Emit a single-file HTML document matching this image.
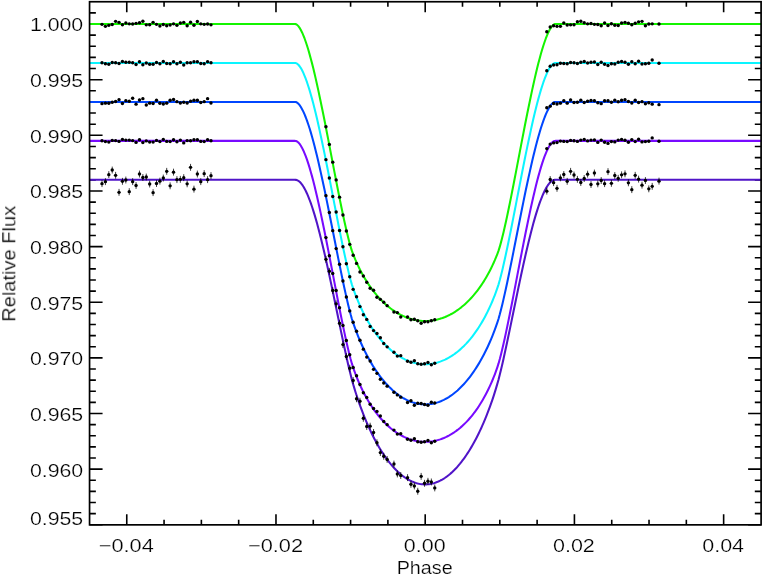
<!DOCTYPE html><html><head><meta charset="utf-8"><title>Transit light curves</title><style>html,body{margin:0;padding:0;background:#fff}svg{display:block}</style></head><body><svg width="763" height="576" viewBox="0 0 763 576"><rect width="763" height="576" fill="#fff"/><path d="M126.76,524.85v-10.5M126.76,1.74v10.5M164.06,524.85v-5.0M164.06,1.74v5.0M201.37,524.85v-5.0M201.37,1.74v5.0M238.67,524.85v-5.0M238.67,1.74v5.0M275.98,524.85v-10.5M275.98,1.74v10.5M313.28,524.85v-5.0M313.28,1.74v5.0M350.59,524.85v-5.0M350.59,1.74v5.0M387.89,524.85v-5.0M387.89,1.74v5.0M425.20,524.85v-10.5M425.20,1.74v10.5M462.50,524.85v-5.0M462.50,1.74v5.0M499.81,524.85v-5.0M499.81,1.74v5.0M537.12,524.85v-5.0M537.12,1.74v5.0M574.42,524.85v-10.5M574.42,1.74v10.5M611.73,524.85v-5.0M611.73,1.74v5.0M649.03,524.85v-5.0M649.03,1.74v5.0M686.34,524.85v-5.0M686.34,1.74v5.0M723.64,524.85v-10.5M723.64,1.74v10.5M89.56,524.80h13.0M761.1,524.80h-13.0M89.56,513.67h6.3M761.1,513.67h-6.3M89.56,502.54h6.3M761.1,502.54h-6.3M89.56,491.42h6.3M761.1,491.42h-6.3M89.56,480.29h6.3M761.1,480.29h-6.3M89.56,469.16h13.0M761.1,469.16h-13.0M89.56,458.03h6.3M761.1,458.03h-6.3M89.56,446.90h6.3M761.1,446.90h-6.3M89.56,435.78h6.3M761.1,435.78h-6.3M89.56,424.65h6.3M761.1,424.65h-6.3M89.56,413.52h13.0M761.1,413.52h-13.0M89.56,402.39h6.3M761.1,402.39h-6.3M89.56,391.26h6.3M761.1,391.26h-6.3M89.56,380.14h6.3M761.1,380.14h-6.3M89.56,369.01h6.3M761.1,369.01h-6.3M89.56,357.88h13.0M761.1,357.88h-13.0M89.56,346.75h6.3M761.1,346.75h-6.3M89.56,335.62h6.3M761.1,335.62h-6.3M89.56,324.50h6.3M761.1,324.50h-6.3M89.56,313.37h6.3M761.1,313.37h-6.3M89.56,302.24h13.0M761.1,302.24h-13.0M89.56,291.11h6.3M761.1,291.11h-6.3M89.56,279.98h6.3M761.1,279.98h-6.3M89.56,268.86h6.3M761.1,268.86h-6.3M89.56,257.73h6.3M761.1,257.73h-6.3M89.56,246.60h13.0M761.1,246.60h-13.0M89.56,235.47h6.3M761.1,235.47h-6.3M89.56,224.34h6.3M761.1,224.34h-6.3M89.56,213.22h6.3M761.1,213.22h-6.3M89.56,202.09h6.3M761.1,202.09h-6.3M89.56,190.96h13.0M761.1,190.96h-13.0M89.56,179.83h6.3M761.1,179.83h-6.3M89.56,168.70h6.3M761.1,168.70h-6.3M89.56,157.58h6.3M761.1,157.58h-6.3M89.56,146.45h6.3M761.1,146.45h-6.3M89.56,135.32h13.0M761.1,135.32h-13.0M89.56,124.19h6.3M761.1,124.19h-6.3M89.56,113.06h6.3M761.1,113.06h-6.3M89.56,101.94h6.3M761.1,101.94h-6.3M89.56,90.81h6.3M761.1,90.81h-6.3M89.56,79.68h13.0M761.1,79.68h-13.0M89.56,68.55h6.3M761.1,68.55h-6.3M89.56,57.42h6.3M761.1,57.42h-6.3M89.56,46.30h6.3M761.1,46.30h-6.3M89.56,35.17h6.3M761.1,35.17h-6.3M89.56,24.04h13.0M761.1,24.04h-13.0M89.56,12.91h6.3M761.1,12.91h-6.3" stroke="#000" stroke-width="1.6" fill="none"/><path d="M89.45,24.04L294.63,24.04L295.88,24.12L297.12,24.88L298.36,26.16L299.61,27.86L300.85,29.99L302.09,32.44L303.34,35.32L304.58,38.48L305.82,42.00L307.07,45.75L308.31,49.82L309.55,54.09L310.80,58.67L312.04,63.37L313.28,68.31L314.53,73.55L315.77,78.89L317.02,84.43L318.26,90.10L319.50,95.98L320.75,102.04L321.99,107.97L323.23,114.06L324.48,120.25L325.72,126.56L326.96,132.96L328.21,139.39L329.45,145.91L330.69,152.38L331.94,158.84L333.18,165.39L334.42,171.86L335.67,178.28L336.91,184.72L338.15,191.07L339.40,197.35L340.64,203.53L341.89,209.45L343.13,215.45L344.37,221.16L345.62,226.81L346.86,232.19L348.10,237.28L349.35,242.14L350.59,246.65L351.83,250.64L353.08,254.02L354.32,257.18L355.56,260.16L356.81,262.98L358.05,265.67L359.29,268.24L360.54,270.70L361.78,273.05L363.02,275.31L364.27,277.48L365.51,279.57L366.76,281.58L368.00,283.51L369.24,285.36L370.49,287.16L371.73,288.88L372.97,290.54L374.22,292.14L375.46,293.69L376.70,295.18L377.95,296.61L379.19,297.99L380.43,299.32L381.68,300.60L382.92,301.84L384.16,303.02L385.41,304.16L386.65,305.26L387.89,306.31L389.14,307.33L390.38,308.30L391.63,309.23L392.87,310.12L394.11,310.97L395.36,311.78L396.60,312.55L397.84,313.29L399.09,313.99L400.33,314.66L401.57,315.29L402.82,315.88L404.06,316.44L405.30,316.97L406.55,317.46L407.79,317.92L409.03,318.35L410.28,318.74L411.52,319.11L412.76,319.43L414.01,319.73L415.25,320.00L416.50,320.23L417.74,320.43L418.98,320.60L420.23,320.74L421.47,320.85L422.71,320.93L423.96,320.98L425.20,320.99L426.44,320.98L427.69,320.93L428.93,320.85L430.17,320.74L431.42,320.60L432.66,320.43L433.90,320.23L435.15,320.00L436.39,319.73L437.63,319.43L438.88,319.11L440.12,318.74L441.37,318.35L442.61,317.92L443.85,317.46L445.10,316.97L446.34,316.44L447.58,315.88L448.83,315.29L450.07,314.66L451.31,313.99L452.56,313.29L453.80,312.55L455.04,311.78L456.29,310.97L457.53,310.12L458.77,309.23L460.02,308.30L461.26,307.33L462.50,306.31L463.75,305.26L464.99,304.16L466.24,303.02L467.48,301.84L468.72,300.60L469.97,299.32L471.21,297.99L472.45,296.61L473.70,295.18L474.94,293.69L476.18,292.14L477.43,290.54L478.67,288.88L479.91,287.16L481.16,285.36L482.40,283.51L483.64,281.58L484.89,279.57L486.13,277.48L487.38,275.31L488.62,273.05L489.86,270.70L491.11,268.24L492.35,265.67L493.59,262.98L494.84,260.16L496.08,257.18L497.32,254.02L498.57,250.64L499.81,246.65L501.05,242.14L502.30,237.28L503.54,232.19L504.78,226.81L506.03,221.16L507.27,215.45L508.51,209.45L509.76,203.53L511.00,197.35L512.25,191.07L513.49,184.72L514.73,178.28L515.98,171.86L517.22,165.39L518.46,158.84L519.71,152.38L520.95,145.91L522.19,139.39L523.44,132.96L524.68,126.56L525.92,120.25L527.17,114.06L528.41,107.97L529.65,102.04L530.90,95.98L532.14,90.10L533.38,84.43L534.63,78.89L535.87,73.55L537.12,68.31L538.36,63.37L539.60,58.67L540.85,54.09L542.09,49.82L543.33,45.75L544.58,42.00L545.82,38.48L547.06,35.32L548.31,32.44L549.55,29.99L550.79,27.86L552.04,26.16L553.28,24.88L554.52,24.12L555.77,24.04L760.94,24.04" fill="none" stroke="#14f400" stroke-width="2.05" stroke-linejoin="round"/><path d="M89.45,62.99L294.63,62.99L295.88,63.05L297.12,63.66L298.36,64.75L299.61,66.24L300.85,68.11L302.09,70.31L303.34,72.90L304.58,75.81L305.82,78.99L307.07,82.46L308.31,86.20L309.55,90.16L310.80,94.43L312.04,98.87L313.28,103.56L314.53,108.48L315.77,113.57L317.02,118.83L318.26,124.26L319.50,129.89L320.75,135.70L321.99,141.45L323.23,147.35L324.48,153.38L325.72,159.52L326.96,165.77L328.21,172.07L329.45,178.46L330.69,184.83L331.94,191.19L333.18,197.63L334.42,204.08L335.67,210.44L336.91,216.84L338.15,223.20L339.40,229.46L340.64,235.64L341.89,241.72L343.13,247.78L344.37,253.57L345.62,259.32L346.86,264.84L348.10,270.13L349.35,275.20L350.59,280.02L351.83,284.35L353.08,288.14L354.32,291.68L355.56,295.03L356.81,298.20L358.05,301.23L359.29,304.12L360.54,306.89L361.78,309.55L363.02,312.10L364.27,314.56L365.51,316.91L366.76,319.19L368.00,321.37L369.24,323.48L370.49,325.51L371.73,327.47L372.97,329.36L374.22,331.18L375.46,332.94L376.70,334.63L377.95,336.27L379.19,337.84L380.43,339.36L381.68,340.82L382.92,342.23L384.16,343.59L385.41,344.89L386.65,346.14L387.89,347.35L389.14,348.51L390.38,349.62L391.63,350.68L392.87,351.70L394.11,352.68L395.36,353.61L396.60,354.50L397.84,355.34L399.09,356.15L400.33,356.91L401.57,357.64L402.82,358.32L404.06,358.96L405.30,359.57L406.55,360.14L407.79,360.66L409.03,361.15L410.28,361.61L411.52,362.02L412.76,362.40L414.01,362.74L415.25,363.05L416.50,363.32L417.74,363.55L418.98,363.75L420.23,363.91L421.47,364.03L422.71,364.12L423.96,364.18L425.20,364.19L426.44,364.18L427.69,364.12L428.93,364.03L430.17,363.91L431.42,363.75L432.66,363.55L433.90,363.32L435.15,363.05L436.39,362.74L437.63,362.40L438.88,362.02L440.12,361.61L441.37,361.15L442.61,360.66L443.85,360.14L445.10,359.57L446.34,358.96L447.58,358.32L448.83,357.64L450.07,356.91L451.31,356.15L452.56,355.34L453.80,354.50L455.04,353.61L456.29,352.68L457.53,351.70L458.77,350.68L460.02,349.62L461.26,348.51L462.50,347.35L463.75,346.14L464.99,344.89L466.24,343.59L467.48,342.23L468.72,340.82L469.97,339.36L471.21,337.84L472.45,336.27L473.70,334.63L474.94,332.94L476.18,331.18L477.43,329.36L478.67,327.47L479.91,325.51L481.16,323.48L482.40,321.37L483.64,319.19L484.89,316.91L486.13,314.56L487.38,312.10L488.62,309.55L489.86,306.89L491.11,304.12L492.35,301.23L493.59,298.20L494.84,295.03L496.08,291.68L497.32,288.14L498.57,284.35L499.81,280.02L501.05,275.20L502.30,270.13L503.54,264.84L504.78,259.32L506.03,253.57L507.27,247.78L508.51,241.72L509.76,235.64L511.00,229.46L512.25,223.20L513.49,216.84L514.73,210.44L515.98,204.08L517.22,197.63L518.46,191.19L519.71,184.83L520.95,178.46L522.19,172.07L523.44,165.77L524.68,159.52L525.92,153.38L527.17,147.35L528.41,141.45L529.65,135.70L530.90,129.89L532.14,124.26L533.38,118.83L534.63,113.57L535.87,108.48L537.12,103.56L538.36,98.87L539.60,94.43L540.85,90.16L542.09,86.20L543.33,82.46L544.58,78.99L545.82,75.81L547.06,72.90L548.31,70.31L549.55,68.11L550.79,66.24L552.04,64.75L553.28,63.66L554.52,63.05L555.77,62.99L760.94,62.99" fill="none" stroke="#0af5ff" stroke-width="2.05" stroke-linejoin="round"/><path d="M89.45,101.94L294.63,101.94L295.88,102.03L297.12,102.62L298.36,103.70L299.61,105.18L300.85,106.99L302.09,109.19L303.34,111.64L304.58,114.45L305.82,117.50L307.07,120.87L308.31,124.46L309.55,128.28L310.80,132.41L312.04,136.71L313.28,141.22L314.53,145.98L315.77,150.91L317.02,156.00L318.26,161.26L319.50,166.72L320.75,172.37L321.99,177.95L323.23,183.69L324.48,189.53L325.72,195.52L326.96,201.60L328.21,207.75L329.45,213.98L330.69,220.22L331.94,226.45L333.18,232.76L334.42,239.07L335.67,245.32L336.91,251.60L338.15,257.89L339.40,264.02L340.64,270.15L341.89,276.17L343.13,282.17L344.37,287.94L345.62,293.61L346.86,299.13L348.10,304.44L349.35,309.49L350.59,314.32L351.83,318.72L353.08,322.58L354.32,326.20L355.56,329.64L356.81,332.92L358.05,336.07L359.29,339.09L360.54,341.99L361.78,344.78L363.02,347.47L364.27,350.07L365.51,352.57L366.76,354.99L368.00,357.33L369.24,359.58L370.49,361.77L371.73,363.88L372.97,365.91L374.22,367.88L375.46,369.79L376.70,371.63L377.95,373.41L379.19,375.13L380.43,376.79L381.68,378.39L382.92,379.93L384.16,381.42L385.41,382.86L386.65,384.24L387.89,385.57L389.14,386.85L390.38,388.08L391.63,389.27L392.87,390.40L394.11,391.48L395.36,392.52L396.60,393.51L397.84,394.46L399.09,395.36L400.33,396.21L401.57,397.02L402.82,397.79L404.06,398.51L405.30,399.19L406.55,399.83L407.79,400.42L409.03,400.97L410.28,401.48L411.52,401.95L412.76,402.38L414.01,402.76L415.25,403.11L416.50,403.41L417.74,403.67L418.98,403.90L420.23,404.08L421.47,404.22L422.71,404.32L423.96,404.38L425.20,404.40L426.44,404.38L427.69,404.32L428.93,404.22L430.17,404.08L431.42,403.90L432.66,403.67L433.90,403.41L435.15,403.11L436.39,402.76L437.63,402.38L438.88,401.95L440.12,401.48L441.37,400.97L442.61,400.42L443.85,399.83L445.10,399.19L446.34,398.51L447.58,397.79L448.83,397.02L450.07,396.21L451.31,395.36L452.56,394.46L453.80,393.51L455.04,392.52L456.29,391.48L457.53,390.40L458.77,389.27L460.02,388.08L461.26,386.85L462.50,385.57L463.75,384.24L464.99,382.86L466.24,381.42L467.48,379.93L468.72,378.39L469.97,376.79L471.21,375.13L472.45,373.41L473.70,371.63L474.94,369.79L476.18,367.88L477.43,365.91L478.67,363.88L479.91,361.77L481.16,359.58L482.40,357.33L483.64,354.99L484.89,352.57L486.13,350.07L487.38,347.47L488.62,344.78L489.86,341.99L491.11,339.09L492.35,336.07L493.59,332.92L494.84,329.64L496.08,326.20L497.32,322.58L498.57,318.72L499.81,314.32L501.05,309.49L502.30,304.44L503.54,299.13L504.78,293.61L506.03,287.94L507.27,282.17L508.51,276.17L509.76,270.15L511.00,264.02L512.25,257.89L513.49,251.60L514.73,245.32L515.98,239.07L517.22,232.76L518.46,226.45L519.71,220.22L520.95,213.98L522.19,207.75L523.44,201.60L524.68,195.52L525.92,189.53L527.17,183.69L528.41,177.95L529.65,172.37L530.90,166.72L532.14,161.26L533.38,156.00L534.63,150.91L535.87,145.98L537.12,141.22L538.36,136.71L539.60,132.41L540.85,128.28L542.09,124.46L543.33,120.87L544.58,117.50L545.82,114.45L547.06,111.64L548.31,109.19L549.55,106.99L550.79,105.18L552.04,103.70L553.28,102.62L554.52,102.03L555.77,101.94L760.94,101.94" fill="none" stroke="#0046ff" stroke-width="2.05" stroke-linejoin="round"/><path d="M89.45,140.88L294.63,140.88L295.88,140.94L297.12,141.49L298.36,142.51L299.61,143.93L300.85,145.75L302.09,147.91L303.34,150.45L304.58,153.31L305.82,156.47L307.07,159.93L308.31,163.67L309.55,167.65L310.80,171.93L312.04,176.38L313.28,181.08L314.53,186.03L315.77,191.14L317.02,196.44L318.26,201.91L319.50,207.57L320.75,213.40L321.99,219.22L323.23,225.18L324.48,231.26L325.72,237.47L326.96,243.77L328.21,250.12L329.45,256.56L330.69,262.99L331.94,269.41L333.18,275.93L334.42,282.42L335.67,288.87L336.91,295.32L338.15,301.73L339.40,308.07L340.64,314.31L341.89,320.41L343.13,326.51L344.37,332.39L345.62,338.17L346.86,343.77L348.10,349.09L349.35,354.23L350.59,359.05L351.83,363.44L353.08,367.30L354.32,370.88L355.56,374.26L356.81,377.45L358.05,380.49L359.29,383.38L360.54,386.15L361.78,388.79L363.02,391.33L364.27,393.76L365.51,396.09L366.76,398.34L368.00,400.49L369.24,402.56L370.49,404.56L371.73,406.48L372.97,408.33L374.22,410.10L375.46,411.82L376.70,413.47L377.95,415.05L379.19,416.58L380.43,418.05L381.68,419.47L382.92,420.83L384.16,422.14L385.41,423.39L386.65,424.60L387.89,425.76L389.14,426.87L390.38,427.94L391.63,428.96L392.87,429.94L394.11,430.87L395.36,431.76L396.60,432.61L397.84,433.42L399.09,434.19L400.33,434.91L401.57,435.60L402.82,436.25L404.06,436.87L405.30,437.44L406.55,437.98L407.79,438.48L409.03,438.95L410.28,439.38L411.52,439.77L412.76,440.13L414.01,440.46L415.25,440.75L416.50,441.00L417.74,441.22L418.98,441.41L420.23,441.56L421.47,441.68L422.71,441.76L423.96,441.81L425.20,441.83L426.44,441.81L427.69,441.76L428.93,441.68L430.17,441.56L431.42,441.41L432.66,441.22L433.90,441.00L435.15,440.75L436.39,440.46L437.63,440.13L438.88,439.77L440.12,439.38L441.37,438.95L442.61,438.48L443.85,437.98L445.10,437.44L446.34,436.87L447.58,436.25L448.83,435.60L450.07,434.91L451.31,434.19L452.56,433.42L453.80,432.61L455.04,431.76L456.29,430.87L457.53,429.94L458.77,428.96L460.02,427.94L461.26,426.87L462.50,425.76L463.75,424.60L464.99,423.39L466.24,422.14L467.48,420.83L468.72,419.47L469.97,418.05L471.21,416.58L472.45,415.05L473.70,413.47L474.94,411.82L476.18,410.10L477.43,408.33L478.67,406.48L479.91,404.56L481.16,402.56L482.40,400.49L483.64,398.34L484.89,396.09L486.13,393.76L487.38,391.33L488.62,388.79L489.86,386.15L491.11,383.38L492.35,380.49L493.59,377.45L494.84,374.26L496.08,370.88L497.32,367.30L498.57,363.44L499.81,359.05L501.05,354.23L502.30,349.09L503.54,343.77L504.78,338.17L506.03,332.39L507.27,326.51L508.51,320.41L509.76,314.31L511.00,308.07L512.25,301.73L513.49,295.32L514.73,288.87L515.98,282.42L517.22,275.93L518.46,269.41L519.71,262.99L520.95,256.56L522.19,250.12L523.44,243.77L524.68,237.47L525.92,231.26L527.17,225.18L528.41,219.22L529.65,213.40L530.90,207.57L532.14,201.91L533.38,196.44L534.63,191.14L535.87,186.03L537.12,181.08L538.36,176.38L539.60,171.93L540.85,167.65L542.09,163.67L543.33,159.93L544.58,156.47L545.82,153.31L547.06,150.45L548.31,147.91L549.55,145.75L550.79,143.93L552.04,142.51L553.28,141.49L554.52,140.94L555.77,140.88L760.94,140.88" fill="none" stroke="#780aff" stroke-width="2.05" stroke-linejoin="round"/><path d="M89.45,179.83L294.63,179.83L295.88,179.86L297.12,180.19L298.36,180.84L299.61,181.81L300.85,183.08L302.09,184.64L303.34,186.50L304.58,188.63L305.82,191.04L307.07,193.69L308.31,196.61L309.55,199.76L310.80,203.16L312.04,206.76L313.28,210.59L314.53,214.64L315.77,218.88L317.02,223.31L318.26,227.92L319.50,232.71L320.75,237.68L321.99,242.73L323.23,247.92L324.48,253.26L325.72,258.74L326.96,264.32L328.21,270.00L329.45,275.78L330.69,281.61L331.94,287.49L333.18,293.47L334.42,299.46L335.67,305.48L336.91,311.52L338.15,317.57L339.40,323.60L340.64,329.61L341.89,335.54L343.13,341.47L344.37,347.29L345.62,353.04L346.86,358.67L348.10,364.15L349.35,369.48L350.59,374.61L351.83,379.45L353.08,383.91L354.32,388.14L355.56,392.18L356.81,396.06L358.05,399.80L359.29,403.39L360.54,406.87L361.78,410.22L363.02,413.47L364.27,416.60L365.51,419.64L366.76,422.59L368.00,425.44L369.24,428.20L370.49,430.88L371.73,433.47L372.97,435.98L374.22,438.41L375.46,440.77L376.70,443.05L377.95,445.26L379.19,447.40L380.43,449.47L381.68,451.47L382.92,453.40L384.16,455.27L385.41,457.07L386.65,458.81L387.89,460.49L389.14,462.10L390.38,463.65L391.63,465.14L392.87,466.58L394.11,467.95L395.36,469.26L396.60,470.52L397.84,471.72L399.09,472.86L400.33,473.95L401.57,474.98L402.82,475.96L404.06,476.88L405.30,477.75L406.55,478.56L407.79,479.32L409.03,480.02L410.28,480.68L411.52,481.27L412.76,481.82L414.01,482.31L415.25,482.76L416.50,483.14L417.74,483.48L418.98,483.77L420.23,484.00L421.47,484.18L422.71,484.31L423.96,484.39L425.20,484.41L426.44,484.39L427.69,484.31L428.93,484.18L430.17,484.00L431.42,483.77L432.66,483.48L433.90,483.14L435.15,482.76L436.39,482.31L437.63,481.82L438.88,481.27L440.12,480.68L441.37,480.02L442.61,479.32L443.85,478.56L445.10,477.75L446.34,476.88L447.58,475.96L448.83,474.98L450.07,473.95L451.31,472.86L452.56,471.72L453.80,470.52L455.04,469.26L456.29,467.95L457.53,466.58L458.77,465.14L460.02,463.65L461.26,462.10L462.50,460.49L463.75,458.81L464.99,457.07L466.24,455.27L467.48,453.40L468.72,451.47L469.97,449.47L471.21,447.40L472.45,445.26L473.70,443.05L474.94,440.77L476.18,438.41L477.43,435.98L478.67,433.47L479.91,430.88L481.16,428.20L482.40,425.44L483.64,422.59L484.89,419.64L486.13,416.60L487.38,413.47L488.62,410.22L489.86,406.87L491.11,403.39L492.35,399.80L493.59,396.06L494.84,392.18L496.08,388.14L497.32,383.91L498.57,379.45L499.81,374.61L501.05,369.48L502.30,364.15L503.54,358.67L504.78,353.04L506.03,347.29L507.27,341.47L508.51,335.54L509.76,329.61L511.00,323.60L512.25,317.57L513.49,311.52L514.73,305.48L515.98,299.46L517.22,293.47L518.46,287.49L519.71,281.61L520.95,275.78L522.19,270.00L523.44,264.32L524.68,258.74L525.92,253.26L527.17,247.92L528.41,242.73L529.65,237.68L530.90,232.71L532.14,227.92L533.38,223.31L534.63,218.88L535.87,214.64L537.12,210.59L538.36,206.76L539.60,203.16L540.85,199.76L542.09,196.61L543.33,193.69L544.58,191.04L545.82,188.63L547.06,186.50L548.31,184.64L549.55,183.08L550.79,181.81L552.04,180.84L553.28,180.19L554.52,179.86L555.77,179.83L760.94,179.83" fill="none" stroke="#5014c8" stroke-width="2.05" stroke-linejoin="round"/><rect x="89.56" y="1.74" width="671.54" height="523.11" fill="none" stroke="#000" stroke-width="1.7"/><path d="M102.00,23.44V25.24M105.41,25.44V27.24M108.81,24.44V26.24M112.22,23.64V25.44M115.62,20.44V22.24M119.03,21.44V23.24M122.44,23.84V25.64M125.84,22.14V23.94M129.25,22.94V24.74M132.65,23.14V24.94M136.06,22.44V24.24M139.47,21.84V23.64M142.87,20.34V22.14M146.28,23.94V25.74M149.68,23.84V25.64M153.09,21.44V23.24M156.50,23.44V25.24M159.90,25.14V26.94M163.31,23.64V25.44M166.71,24.84V26.64M170.12,24.14V25.94M173.53,22.94V24.74M176.93,24.44V26.24M180.34,22.14V23.94M183.74,21.44V23.24M187.15,24.84V26.64M190.56,21.34V23.14M193.96,24.34V26.14M197.37,20.64V22.44M200.77,22.94V24.74M204.18,23.44V25.24M207.59,23.14V24.94M210.99,23.94V25.74M546.80,30.84V32.64M550.20,26.14V27.94M553.60,24.84V26.64M557.00,25.44V27.24M560.40,25.44V27.24M563.80,22.14V23.94M567.20,24.14V25.94M570.60,23.94V25.74M574.00,23.84V25.64M577.40,20.84V22.64M580.80,20.34V22.14M584.20,21.84V23.64M587.60,22.94V24.74M591.00,22.64V24.44M594.40,23.44V25.24M597.80,23.64V25.44M601.20,24.84V26.64M604.60,22.14V23.94M608.00,24.64V26.44M611.40,22.84V24.64M614.80,24.34V26.14M618.20,24.64V26.44M621.60,22.14V23.94M625.00,21.44V23.24M628.40,22.34V24.14M631.80,23.84V25.64M635.20,22.34V24.14M638.60,20.94V22.74M642.00,20.44V22.24M645.40,24.84V26.64M648.80,23.14V24.94M652.20,22.94V24.74M659.00,23.14V24.94M325.95,125.91V127.71M329.35,143.49V145.29M332.75,161.23V163.03M336.15,178.98V180.78M339.55,196.23V198.03M342.95,214.10V215.90M346.35,230.09V231.89M349.75,243.43V245.23M353.15,254.31V256.11M356.55,262.51V264.31M359.95,271.15V272.95M363.35,275.04V276.84M366.75,281.41V283.21M370.15,287.29V289.09M373.55,289.31V291.11M376.95,296.31V298.11M380.35,298.44V300.24M383.75,301.36V303.16M387.15,304.77V306.57M393.95,311.13V312.93M397.35,311.71V313.51M400.75,316.07V317.87M407.55,316.05V317.85M410.95,318.79V320.59M414.35,318.37V320.17M417.75,319.89V321.69M421.15,322.30V324.10M424.55,320.80V322.60M427.95,320.90V322.70M431.35,319.79V321.59M434.75,318.81V320.61M102.00,61.89V63.69M105.41,62.79V64.59M108.81,63.29V65.09M112.22,61.59V63.39M115.62,61.79V63.59M119.03,62.59V64.39M122.44,60.59V62.39M125.84,61.29V63.09M129.25,61.29V63.09M132.65,61.79V63.59M136.06,63.59V65.39M139.47,60.89V62.69M142.87,63.79V65.59M146.28,62.09V63.89M149.68,63.29V65.09M153.09,63.29V65.09M156.50,61.59V63.39M159.90,62.79V64.59M163.31,60.59V62.39M166.71,62.59V64.39M170.12,62.79V64.59M173.53,60.89V62.69M176.93,62.89V64.69M180.34,61.29V63.09M183.74,64.09V65.89M187.15,61.79V63.59M190.56,61.89V63.69M193.96,60.89V62.69M197.37,60.89V62.69M200.77,62.59V64.39M204.18,62.79V64.59M207.59,60.89V62.69M210.99,61.89V63.69M546.80,69.79V71.59M550.20,65.29V67.09M553.60,64.09V65.89M557.00,63.79V65.59M560.40,62.29V64.09M563.80,62.59V64.39M567.20,62.79V64.59M570.60,61.59V63.39M574.00,61.89V63.69M577.40,62.59V64.39M580.80,61.29V63.09M584.20,60.59V62.39M587.60,62.09V63.89M591.00,61.29V63.09M594.40,61.09V62.89M597.80,63.59V65.39M601.20,61.29V63.09M604.60,63.39V65.19M608.00,64.59V66.39M611.40,62.79V64.59M614.80,63.09V64.89M618.20,61.29V63.09M621.60,60.59V62.39M625.00,61.39V63.19M628.40,63.39V65.19M631.80,60.79V62.59M635.20,62.79V64.59M638.60,60.39V62.19M642.00,63.09V64.89M645.40,62.79V64.59M648.80,62.39V64.19M652.20,59.09V60.89M659.00,62.39V64.19M325.95,158.77V160.57M329.35,177.04V178.84M332.75,195.53V197.33M336.15,211.08V212.88M339.55,229.55V231.35M342.95,245.82V247.62M346.35,262.92V264.72M349.75,275.79V277.59M353.15,288.46V290.26M356.55,295.92V297.72M359.95,305.70V307.50M363.35,313.80V315.60M366.75,318.51V320.31M370.15,325.56V327.36M373.55,329.68V331.48M376.95,332.57V334.37M380.35,336.92V338.72M383.75,342.63V344.43M387.15,345.95V347.75M393.95,351.41V353.21M397.35,355.20V357.00M400.75,354.77V356.57M407.55,360.34V362.14M410.95,361.28V363.08M414.35,359.91V361.71M417.75,362.89V364.69M421.15,363.40V365.20M424.55,362.80V364.60M427.95,361.60V363.40M431.35,363.89V365.69M434.75,362.41V364.21M102.00,102.44V104.84M105.41,101.94V104.34M108.81,102.04V104.44M112.22,101.04V103.44M115.62,100.24V102.64M119.03,98.44V100.84M122.44,102.24V104.64M125.84,99.44V101.84M129.25,100.04V102.44M132.65,97.04V99.44M136.06,102.94V105.34M139.47,98.74V101.14M142.87,97.44V99.84M146.28,103.74V106.14M149.68,101.94V104.34M153.09,102.24V104.64M156.50,99.04V101.44M159.90,102.04V104.44M163.31,102.74V105.14M166.71,101.94V104.34M170.12,99.04V101.44M173.53,98.24V100.64M176.93,100.44V102.84M180.34,101.74V104.14M183.74,101.04V103.44M187.15,101.74V104.14M190.56,99.94V102.34M193.96,99.04V101.44M197.37,99.04V101.44M200.77,101.24V103.64M204.18,100.44V102.84M207.59,97.44V99.84M210.99,101.74V104.14M546.80,106.54V108.94M550.20,104.94V107.34M553.60,102.24V104.64M557.00,102.74V105.14M560.40,101.94V104.34M563.80,99.44V101.84M567.20,101.94V104.34M570.60,98.74V101.14M574.00,101.24V103.64M577.40,101.04V103.44M580.80,98.94V101.34M584.20,101.24V103.64M587.60,100.04V102.44M591.00,99.24V101.64M594.40,99.54V101.94M597.80,101.54V103.94M601.20,102.44V104.84M604.60,99.54V101.94M608.00,99.54V101.94M611.40,101.04V103.44M614.80,98.94V101.34M618.20,100.54V102.94M621.60,99.04V101.44M625.00,98.44V100.84M628.40,100.24V102.64M631.80,101.74V104.14M635.20,99.04V101.44M638.60,101.24V103.64M642.00,100.44V102.84M645.40,102.54V104.94M648.80,101.54V103.94M652.20,102.94V105.34M659.00,103.44V105.84M325.95,194.45V196.85M329.35,211.30V213.70M332.75,229.47V231.87M336.15,247.41V249.81M339.55,263.11V265.51M342.95,279.77V282.17M346.35,295.77V298.17M349.75,309.71V312.11M353.15,321.00V323.40M356.55,330.11V332.51M359.95,339.02V341.42M363.35,347.96V350.36M366.75,355.90V358.30M370.15,359.84V362.24M373.55,368.14V370.54M376.95,372.14V374.54M380.35,377.98V380.38M383.75,381.80V384.20M387.15,384.94V387.34M393.95,391.09V393.49M397.35,393.69V396.09M400.75,395.97V398.37M407.55,401.23V403.63M410.95,399.58V401.98M414.35,404.11V406.51M417.75,402.09V404.49M421.15,402.29V404.69M424.55,403.30V405.70M427.95,404.10V406.50M431.35,400.99V403.39M434.75,401.81V404.21M102.00,139.78V141.58M105.41,140.68V142.48M108.81,141.18V142.98M112.22,139.48V141.28M115.62,139.68V141.48M119.03,140.48V142.28M122.44,138.48V140.28M125.84,139.18V140.98M129.25,139.18V140.98M132.65,139.68V141.48M136.06,141.48V143.28M139.47,138.78V140.58M142.87,141.68V143.48M146.28,139.98V141.78M149.68,141.18V142.98M153.09,141.18V142.98M156.50,139.48V141.28M159.90,140.68V142.48M163.31,138.48V140.28M166.71,140.48V142.28M170.12,140.68V142.48M173.53,138.78V140.58M176.93,140.78V142.58M180.34,139.18V140.98M183.74,141.98V143.78M187.15,139.68V141.48M190.56,139.78V141.58M193.96,138.78V140.58M197.37,138.78V140.58M200.77,140.48V142.28M204.18,140.68V142.48M207.59,138.78V140.58M210.99,139.78V141.58M546.80,147.68V149.48M550.20,143.18V144.98M553.60,141.98V143.78M557.00,141.68V143.48M560.40,140.18V141.98M563.80,140.48V142.28M567.20,140.68V142.48M570.60,139.48V141.28M574.00,139.78V141.58M577.40,140.48V142.28M580.80,139.18V140.98M584.20,138.48V140.28M587.60,139.98V141.78M591.00,139.18V140.98M594.40,138.98V140.78M597.80,141.48V143.28M601.20,139.18V140.98M604.60,141.28V143.08M608.00,142.48V144.28M611.40,140.68V142.48M614.80,140.98V142.78M618.20,139.18V140.98M621.60,138.48V140.28M625.00,139.28V141.08M628.40,141.28V143.08M631.80,138.68V140.48M635.20,140.68V142.48M638.60,138.28V140.08M642.00,140.98V142.78M645.40,140.68V142.48M648.80,140.28V142.08M652.20,136.98V138.78M659.00,140.28V142.08M325.95,236.72V238.52M329.35,254.80V256.60M332.75,272.55V274.35M336.15,289.53V291.33M339.55,306.92V308.72M342.95,324.62V326.42M346.35,339.57V341.37M349.75,353.92V355.72M353.15,366.66V368.46M356.55,374.90V376.70M359.95,383.55V385.35M363.35,391.80V393.60M366.75,396.51V398.31M370.15,403.36V405.16M373.55,407.59V409.39M376.95,410.48V412.28M380.35,415.13V416.93M383.75,420.54V422.34M387.15,423.76V425.56M393.95,429.22V431.02M397.35,433.20V435.00M400.75,432.77V434.57M407.55,438.34V440.14M410.95,439.28V441.08M414.35,437.91V439.71M417.75,440.79V442.59M421.15,441.40V443.20M424.55,440.80V442.60M427.95,439.60V441.40M431.35,441.89V443.69M434.75,440.41V442.21M102.00,180.18V187.08M105.41,178.18V185.08M108.81,171.18V178.08M112.22,166.58V173.48M115.62,171.88V178.78M119.03,188.88V195.78M122.44,177.88V184.78M125.84,176.58V183.48M129.25,188.18V195.08M132.65,178.18V185.08M136.06,182.08V188.98M139.47,170.58V177.48M142.87,174.08V180.98M146.28,173.58V180.48M149.68,180.58V187.48M153.09,189.18V196.08M156.50,180.08V186.98M159.90,177.68V184.58M163.31,174.58V181.48M166.71,167.88V174.78M170.12,182.38V189.28M173.53,168.68V175.58M176.93,176.18V183.08M180.34,175.88V182.78M183.74,174.18V181.08M187.15,180.38V187.28M190.56,163.88V170.78M193.96,185.68V192.58M197.37,170.58V177.48M200.77,178.18V185.08M204.18,170.18V177.08M207.59,176.18V183.08M210.99,172.18V179.08M546.80,187.68V194.58M550.20,176.08V182.98M553.60,179.18V186.08M557.00,184.88V191.78M560.40,174.38V181.28M563.80,171.08V177.98M567.20,177.88V184.78M570.60,167.88V174.78M574.00,171.58V178.48M577.40,175.88V182.78M580.80,179.08V185.98M584.20,175.08V181.98M587.60,170.68V177.58M591.00,181.08V187.98M594.40,169.58V176.48M597.80,180.38V187.28M601.20,177.08V183.98M604.60,180.18V187.08M608.00,168.18V175.08M611.40,179.88V186.78M614.80,172.08V178.98M618.20,174.88V181.78M621.60,171.38V178.28M625.00,170.38V177.28M628.40,179.38V186.28M631.80,186.18V193.08M635.20,171.88V178.78M638.60,175.68V182.58M642.00,181.68V188.58M645.40,177.08V183.98M648.80,185.38V192.28M652.20,182.88V189.78M659.00,177.68V184.58M325.95,255.92V262.82M329.35,267.86V274.76M332.75,287.11V294.01M336.15,300.40V307.30M339.55,319.81V326.71M342.95,341.16V348.06M346.35,353.07V359.97M349.75,364.75V371.65M353.15,377.07V383.97M356.55,395.32V402.22M359.95,397.79V404.69M363.35,414.85V421.75M366.75,423.12V430.02M370.15,422.71V429.61M373.55,429.04V435.94M376.95,439.32V446.22M380.35,449.13V456.03M383.75,452.82V459.72M387.15,455.98V462.88M393.95,460.62V467.52M397.35,470.49V477.39M400.75,472.06V478.96M407.55,474.20V481.10M410.95,480.87V487.77M414.35,482.48V489.38M417.75,487.81V494.71M421.15,472.90V479.80M424.55,479.86V486.76M427.95,477.83V484.73M431.35,478.52V485.42M434.75,484.47V491.37" stroke="#000" stroke-width="0.75" fill="none"/><g fill="#000"><circle cx="102.00" cy="24.34" r="1.7"/><circle cx="105.41" cy="26.34" r="1.7"/><circle cx="108.81" cy="25.34" r="1.7"/><circle cx="112.22" cy="24.54" r="1.7"/><circle cx="115.62" cy="21.34" r="1.7"/><circle cx="119.03" cy="22.34" r="1.7"/><circle cx="122.44" cy="24.74" r="1.7"/><circle cx="125.84" cy="23.04" r="1.7"/><circle cx="129.25" cy="23.84" r="1.7"/><circle cx="132.65" cy="24.04" r="1.7"/><circle cx="136.06" cy="23.34" r="1.7"/><circle cx="139.47" cy="22.74" r="1.7"/><circle cx="142.87" cy="21.24" r="1.7"/><circle cx="146.28" cy="24.84" r="1.7"/><circle cx="149.68" cy="24.74" r="1.7"/><circle cx="153.09" cy="22.34" r="1.7"/><circle cx="156.50" cy="24.34" r="1.7"/><circle cx="159.90" cy="26.04" r="1.7"/><circle cx="163.31" cy="24.54" r="1.7"/><circle cx="166.71" cy="25.74" r="1.7"/><circle cx="170.12" cy="25.04" r="1.7"/><circle cx="173.53" cy="23.84" r="1.7"/><circle cx="176.93" cy="25.34" r="1.7"/><circle cx="180.34" cy="23.04" r="1.7"/><circle cx="183.74" cy="22.34" r="1.7"/><circle cx="187.15" cy="25.74" r="1.7"/><circle cx="190.56" cy="22.24" r="1.7"/><circle cx="193.96" cy="25.24" r="1.7"/><circle cx="197.37" cy="21.54" r="1.7"/><circle cx="200.77" cy="23.84" r="1.7"/><circle cx="204.18" cy="24.34" r="1.7"/><circle cx="207.59" cy="24.04" r="1.7"/><circle cx="210.99" cy="24.84" r="1.7"/><circle cx="546.80" cy="31.74" r="1.7"/><circle cx="550.20" cy="27.04" r="1.7"/><circle cx="553.60" cy="25.74" r="1.7"/><circle cx="557.00" cy="26.34" r="1.7"/><circle cx="560.40" cy="26.34" r="1.7"/><circle cx="563.80" cy="23.04" r="1.7"/><circle cx="567.20" cy="25.04" r="1.7"/><circle cx="570.60" cy="24.84" r="1.7"/><circle cx="574.00" cy="24.74" r="1.7"/><circle cx="577.40" cy="21.74" r="1.7"/><circle cx="580.80" cy="21.24" r="1.7"/><circle cx="584.20" cy="22.74" r="1.7"/><circle cx="587.60" cy="23.84" r="1.7"/><circle cx="591.00" cy="23.54" r="1.7"/><circle cx="594.40" cy="24.34" r="1.7"/><circle cx="597.80" cy="24.54" r="1.7"/><circle cx="601.20" cy="25.74" r="1.7"/><circle cx="604.60" cy="23.04" r="1.7"/><circle cx="608.00" cy="25.54" r="1.7"/><circle cx="611.40" cy="23.74" r="1.7"/><circle cx="614.80" cy="25.24" r="1.7"/><circle cx="618.20" cy="25.54" r="1.7"/><circle cx="621.60" cy="23.04" r="1.7"/><circle cx="625.00" cy="22.34" r="1.7"/><circle cx="628.40" cy="23.24" r="1.7"/><circle cx="631.80" cy="24.74" r="1.7"/><circle cx="635.20" cy="23.24" r="1.7"/><circle cx="638.60" cy="21.84" r="1.7"/><circle cx="642.00" cy="21.34" r="1.7"/><circle cx="645.40" cy="25.74" r="1.7"/><circle cx="648.80" cy="24.04" r="1.7"/><circle cx="652.20" cy="23.84" r="1.7"/><circle cx="659.00" cy="24.04" r="1.7"/><circle cx="325.95" cy="126.81" r="1.7"/><circle cx="329.35" cy="144.39" r="1.7"/><circle cx="332.75" cy="162.13" r="1.7"/><circle cx="336.15" cy="179.88" r="1.7"/><circle cx="339.55" cy="197.13" r="1.7"/><circle cx="342.95" cy="215.00" r="1.7"/><circle cx="346.35" cy="230.99" r="1.7"/><circle cx="349.75" cy="244.33" r="1.7"/><circle cx="353.15" cy="255.21" r="1.7"/><circle cx="356.55" cy="263.41" r="1.7"/><circle cx="359.95" cy="272.05" r="1.7"/><circle cx="363.35" cy="275.94" r="1.7"/><circle cx="366.75" cy="282.31" r="1.7"/><circle cx="370.15" cy="288.19" r="1.7"/><circle cx="373.55" cy="290.21" r="1.7"/><circle cx="376.95" cy="297.21" r="1.7"/><circle cx="380.35" cy="299.34" r="1.7"/><circle cx="383.75" cy="302.26" r="1.7"/><circle cx="387.15" cy="305.67" r="1.7"/><circle cx="393.95" cy="312.03" r="1.7"/><circle cx="397.35" cy="312.61" r="1.7"/><circle cx="400.75" cy="316.97" r="1.7"/><circle cx="407.55" cy="316.95" r="1.7"/><circle cx="410.95" cy="319.69" r="1.7"/><circle cx="414.35" cy="319.27" r="1.7"/><circle cx="417.75" cy="320.79" r="1.7"/><circle cx="421.15" cy="323.20" r="1.7"/><circle cx="424.55" cy="321.70" r="1.7"/><circle cx="427.95" cy="321.80" r="1.7"/><circle cx="431.35" cy="320.69" r="1.7"/><circle cx="434.75" cy="319.71" r="1.7"/><circle cx="102.00" cy="62.79" r="1.7"/><circle cx="105.41" cy="63.69" r="1.7"/><circle cx="108.81" cy="64.19" r="1.7"/><circle cx="112.22" cy="62.49" r="1.7"/><circle cx="115.62" cy="62.69" r="1.7"/><circle cx="119.03" cy="63.49" r="1.7"/><circle cx="122.44" cy="61.49" r="1.7"/><circle cx="125.84" cy="62.19" r="1.7"/><circle cx="129.25" cy="62.19" r="1.7"/><circle cx="132.65" cy="62.69" r="1.7"/><circle cx="136.06" cy="64.49" r="1.7"/><circle cx="139.47" cy="61.79" r="1.7"/><circle cx="142.87" cy="64.69" r="1.7"/><circle cx="146.28" cy="62.99" r="1.7"/><circle cx="149.68" cy="64.19" r="1.7"/><circle cx="153.09" cy="64.19" r="1.7"/><circle cx="156.50" cy="62.49" r="1.7"/><circle cx="159.90" cy="63.69" r="1.7"/><circle cx="163.31" cy="61.49" r="1.7"/><circle cx="166.71" cy="63.49" r="1.7"/><circle cx="170.12" cy="63.69" r="1.7"/><circle cx="173.53" cy="61.79" r="1.7"/><circle cx="176.93" cy="63.79" r="1.7"/><circle cx="180.34" cy="62.19" r="1.7"/><circle cx="183.74" cy="64.99" r="1.7"/><circle cx="187.15" cy="62.69" r="1.7"/><circle cx="190.56" cy="62.79" r="1.7"/><circle cx="193.96" cy="61.79" r="1.7"/><circle cx="197.37" cy="61.79" r="1.7"/><circle cx="200.77" cy="63.49" r="1.7"/><circle cx="204.18" cy="63.69" r="1.7"/><circle cx="207.59" cy="61.79" r="1.7"/><circle cx="210.99" cy="62.79" r="1.7"/><circle cx="546.80" cy="70.69" r="1.7"/><circle cx="550.20" cy="66.19" r="1.7"/><circle cx="553.60" cy="64.99" r="1.7"/><circle cx="557.00" cy="64.69" r="1.7"/><circle cx="560.40" cy="63.19" r="1.7"/><circle cx="563.80" cy="63.49" r="1.7"/><circle cx="567.20" cy="63.69" r="1.7"/><circle cx="570.60" cy="62.49" r="1.7"/><circle cx="574.00" cy="62.79" r="1.7"/><circle cx="577.40" cy="63.49" r="1.7"/><circle cx="580.80" cy="62.19" r="1.7"/><circle cx="584.20" cy="61.49" r="1.7"/><circle cx="587.60" cy="62.99" r="1.7"/><circle cx="591.00" cy="62.19" r="1.7"/><circle cx="594.40" cy="61.99" r="1.7"/><circle cx="597.80" cy="64.49" r="1.7"/><circle cx="601.20" cy="62.19" r="1.7"/><circle cx="604.60" cy="64.29" r="1.7"/><circle cx="608.00" cy="65.49" r="1.7"/><circle cx="611.40" cy="63.69" r="1.7"/><circle cx="614.80" cy="63.99" r="1.7"/><circle cx="618.20" cy="62.19" r="1.7"/><circle cx="621.60" cy="61.49" r="1.7"/><circle cx="625.00" cy="62.29" r="1.7"/><circle cx="628.40" cy="64.29" r="1.7"/><circle cx="631.80" cy="61.69" r="1.7"/><circle cx="635.20" cy="63.69" r="1.7"/><circle cx="638.60" cy="61.29" r="1.7"/><circle cx="642.00" cy="63.99" r="1.7"/><circle cx="645.40" cy="63.69" r="1.7"/><circle cx="648.80" cy="63.29" r="1.7"/><circle cx="652.20" cy="59.99" r="1.7"/><circle cx="659.00" cy="63.29" r="1.7"/><circle cx="325.95" cy="159.67" r="1.7"/><circle cx="329.35" cy="177.94" r="1.7"/><circle cx="332.75" cy="196.43" r="1.7"/><circle cx="336.15" cy="211.98" r="1.7"/><circle cx="339.55" cy="230.45" r="1.7"/><circle cx="342.95" cy="246.72" r="1.7"/><circle cx="346.35" cy="263.82" r="1.7"/><circle cx="349.75" cy="276.69" r="1.7"/><circle cx="353.15" cy="289.36" r="1.7"/><circle cx="356.55" cy="296.82" r="1.7"/><circle cx="359.95" cy="306.60" r="1.7"/><circle cx="363.35" cy="314.70" r="1.7"/><circle cx="366.75" cy="319.41" r="1.7"/><circle cx="370.15" cy="326.46" r="1.7"/><circle cx="373.55" cy="330.58" r="1.7"/><circle cx="376.95" cy="333.47" r="1.7"/><circle cx="380.35" cy="337.82" r="1.7"/><circle cx="383.75" cy="343.53" r="1.7"/><circle cx="387.15" cy="346.85" r="1.7"/><circle cx="393.95" cy="352.31" r="1.7"/><circle cx="397.35" cy="356.10" r="1.7"/><circle cx="400.75" cy="355.67" r="1.7"/><circle cx="407.55" cy="361.24" r="1.7"/><circle cx="410.95" cy="362.18" r="1.7"/><circle cx="414.35" cy="360.81" r="1.7"/><circle cx="417.75" cy="363.79" r="1.7"/><circle cx="421.15" cy="364.30" r="1.7"/><circle cx="424.55" cy="363.70" r="1.7"/><circle cx="427.95" cy="362.50" r="1.7"/><circle cx="431.35" cy="364.79" r="1.7"/><circle cx="434.75" cy="363.31" r="1.7"/><circle cx="102.00" cy="103.64" r="1.7"/><circle cx="105.41" cy="103.14" r="1.7"/><circle cx="108.81" cy="103.24" r="1.7"/><circle cx="112.22" cy="102.24" r="1.7"/><circle cx="115.62" cy="101.44" r="1.7"/><circle cx="119.03" cy="99.64" r="1.7"/><circle cx="122.44" cy="103.44" r="1.7"/><circle cx="125.84" cy="100.64" r="1.7"/><circle cx="129.25" cy="101.24" r="1.7"/><circle cx="132.65" cy="98.24" r="1.7"/><circle cx="136.06" cy="104.14" r="1.7"/><circle cx="139.47" cy="99.94" r="1.7"/><circle cx="142.87" cy="98.64" r="1.7"/><circle cx="146.28" cy="104.94" r="1.7"/><circle cx="149.68" cy="103.14" r="1.7"/><circle cx="153.09" cy="103.44" r="1.7"/><circle cx="156.50" cy="100.24" r="1.7"/><circle cx="159.90" cy="103.24" r="1.7"/><circle cx="163.31" cy="103.94" r="1.7"/><circle cx="166.71" cy="103.14" r="1.7"/><circle cx="170.12" cy="100.24" r="1.7"/><circle cx="173.53" cy="99.44" r="1.7"/><circle cx="176.93" cy="101.64" r="1.7"/><circle cx="180.34" cy="102.94" r="1.7"/><circle cx="183.74" cy="102.24" r="1.7"/><circle cx="187.15" cy="102.94" r="1.7"/><circle cx="190.56" cy="101.14" r="1.7"/><circle cx="193.96" cy="100.24" r="1.7"/><circle cx="197.37" cy="100.24" r="1.7"/><circle cx="200.77" cy="102.44" r="1.7"/><circle cx="204.18" cy="101.64" r="1.7"/><circle cx="207.59" cy="98.64" r="1.7"/><circle cx="210.99" cy="102.94" r="1.7"/><circle cx="546.80" cy="107.74" r="1.7"/><circle cx="550.20" cy="106.14" r="1.7"/><circle cx="553.60" cy="103.44" r="1.7"/><circle cx="557.00" cy="103.94" r="1.7"/><circle cx="560.40" cy="103.14" r="1.7"/><circle cx="563.80" cy="100.64" r="1.7"/><circle cx="567.20" cy="103.14" r="1.7"/><circle cx="570.60" cy="99.94" r="1.7"/><circle cx="574.00" cy="102.44" r="1.7"/><circle cx="577.40" cy="102.24" r="1.7"/><circle cx="580.80" cy="100.14" r="1.7"/><circle cx="584.20" cy="102.44" r="1.7"/><circle cx="587.60" cy="101.24" r="1.7"/><circle cx="591.00" cy="100.44" r="1.7"/><circle cx="594.40" cy="100.74" r="1.7"/><circle cx="597.80" cy="102.74" r="1.7"/><circle cx="601.20" cy="103.64" r="1.7"/><circle cx="604.60" cy="100.74" r="1.7"/><circle cx="608.00" cy="100.74" r="1.7"/><circle cx="611.40" cy="102.24" r="1.7"/><circle cx="614.80" cy="100.14" r="1.7"/><circle cx="618.20" cy="101.74" r="1.7"/><circle cx="621.60" cy="100.24" r="1.7"/><circle cx="625.00" cy="99.64" r="1.7"/><circle cx="628.40" cy="101.44" r="1.7"/><circle cx="631.80" cy="102.94" r="1.7"/><circle cx="635.20" cy="100.24" r="1.7"/><circle cx="638.60" cy="102.44" r="1.7"/><circle cx="642.00" cy="101.64" r="1.7"/><circle cx="645.40" cy="103.74" r="1.7"/><circle cx="648.80" cy="102.74" r="1.7"/><circle cx="652.20" cy="104.14" r="1.7"/><circle cx="659.00" cy="104.64" r="1.7"/><circle cx="325.95" cy="195.65" r="1.7"/><circle cx="329.35" cy="212.50" r="1.7"/><circle cx="332.75" cy="230.67" r="1.7"/><circle cx="336.15" cy="248.61" r="1.7"/><circle cx="339.55" cy="264.31" r="1.7"/><circle cx="342.95" cy="280.97" r="1.7"/><circle cx="346.35" cy="296.97" r="1.7"/><circle cx="349.75" cy="310.91" r="1.7"/><circle cx="353.15" cy="322.20" r="1.7"/><circle cx="356.55" cy="331.31" r="1.7"/><circle cx="359.95" cy="340.22" r="1.7"/><circle cx="363.35" cy="349.16" r="1.7"/><circle cx="366.75" cy="357.10" r="1.7"/><circle cx="370.15" cy="361.04" r="1.7"/><circle cx="373.55" cy="369.34" r="1.7"/><circle cx="376.95" cy="373.34" r="1.7"/><circle cx="380.35" cy="379.18" r="1.7"/><circle cx="383.75" cy="383.00" r="1.7"/><circle cx="387.15" cy="386.14" r="1.7"/><circle cx="393.95" cy="392.29" r="1.7"/><circle cx="397.35" cy="394.89" r="1.7"/><circle cx="400.75" cy="397.17" r="1.7"/><circle cx="407.55" cy="402.43" r="1.7"/><circle cx="410.95" cy="400.78" r="1.7"/><circle cx="414.35" cy="405.31" r="1.7"/><circle cx="417.75" cy="403.29" r="1.7"/><circle cx="421.15" cy="403.49" r="1.7"/><circle cx="424.55" cy="404.50" r="1.7"/><circle cx="427.95" cy="405.30" r="1.7"/><circle cx="431.35" cy="402.19" r="1.7"/><circle cx="434.75" cy="403.01" r="1.7"/><circle cx="102.00" cy="140.68" r="1.7"/><circle cx="105.41" cy="141.58" r="1.7"/><circle cx="108.81" cy="142.08" r="1.7"/><circle cx="112.22" cy="140.38" r="1.7"/><circle cx="115.62" cy="140.58" r="1.7"/><circle cx="119.03" cy="141.38" r="1.7"/><circle cx="122.44" cy="139.38" r="1.7"/><circle cx="125.84" cy="140.08" r="1.7"/><circle cx="129.25" cy="140.08" r="1.7"/><circle cx="132.65" cy="140.58" r="1.7"/><circle cx="136.06" cy="142.38" r="1.7"/><circle cx="139.47" cy="139.68" r="1.7"/><circle cx="142.87" cy="142.58" r="1.7"/><circle cx="146.28" cy="140.88" r="1.7"/><circle cx="149.68" cy="142.08" r="1.7"/><circle cx="153.09" cy="142.08" r="1.7"/><circle cx="156.50" cy="140.38" r="1.7"/><circle cx="159.90" cy="141.58" r="1.7"/><circle cx="163.31" cy="139.38" r="1.7"/><circle cx="166.71" cy="141.38" r="1.7"/><circle cx="170.12" cy="141.58" r="1.7"/><circle cx="173.53" cy="139.68" r="1.7"/><circle cx="176.93" cy="141.68" r="1.7"/><circle cx="180.34" cy="140.08" r="1.7"/><circle cx="183.74" cy="142.88" r="1.7"/><circle cx="187.15" cy="140.58" r="1.7"/><circle cx="190.56" cy="140.68" r="1.7"/><circle cx="193.96" cy="139.68" r="1.7"/><circle cx="197.37" cy="139.68" r="1.7"/><circle cx="200.77" cy="141.38" r="1.7"/><circle cx="204.18" cy="141.58" r="1.7"/><circle cx="207.59" cy="139.68" r="1.7"/><circle cx="210.99" cy="140.68" r="1.7"/><circle cx="546.80" cy="148.58" r="1.7"/><circle cx="550.20" cy="144.08" r="1.7"/><circle cx="553.60" cy="142.88" r="1.7"/><circle cx="557.00" cy="142.58" r="1.7"/><circle cx="560.40" cy="141.08" r="1.7"/><circle cx="563.80" cy="141.38" r="1.7"/><circle cx="567.20" cy="141.58" r="1.7"/><circle cx="570.60" cy="140.38" r="1.7"/><circle cx="574.00" cy="140.68" r="1.7"/><circle cx="577.40" cy="141.38" r="1.7"/><circle cx="580.80" cy="140.08" r="1.7"/><circle cx="584.20" cy="139.38" r="1.7"/><circle cx="587.60" cy="140.88" r="1.7"/><circle cx="591.00" cy="140.08" r="1.7"/><circle cx="594.40" cy="139.88" r="1.7"/><circle cx="597.80" cy="142.38" r="1.7"/><circle cx="601.20" cy="140.08" r="1.7"/><circle cx="604.60" cy="142.18" r="1.7"/><circle cx="608.00" cy="143.38" r="1.7"/><circle cx="611.40" cy="141.58" r="1.7"/><circle cx="614.80" cy="141.88" r="1.7"/><circle cx="618.20" cy="140.08" r="1.7"/><circle cx="621.60" cy="139.38" r="1.7"/><circle cx="625.00" cy="140.18" r="1.7"/><circle cx="628.40" cy="142.18" r="1.7"/><circle cx="631.80" cy="139.58" r="1.7"/><circle cx="635.20" cy="141.58" r="1.7"/><circle cx="638.60" cy="139.18" r="1.7"/><circle cx="642.00" cy="141.88" r="1.7"/><circle cx="645.40" cy="141.58" r="1.7"/><circle cx="648.80" cy="141.18" r="1.7"/><circle cx="652.20" cy="137.88" r="1.7"/><circle cx="659.00" cy="141.18" r="1.7"/><circle cx="325.95" cy="237.62" r="1.7"/><circle cx="329.35" cy="255.70" r="1.7"/><circle cx="332.75" cy="273.45" r="1.7"/><circle cx="336.15" cy="290.43" r="1.7"/><circle cx="339.55" cy="307.82" r="1.7"/><circle cx="342.95" cy="325.52" r="1.7"/><circle cx="346.35" cy="340.47" r="1.7"/><circle cx="349.75" cy="354.82" r="1.7"/><circle cx="353.15" cy="367.56" r="1.7"/><circle cx="356.55" cy="375.80" r="1.7"/><circle cx="359.95" cy="384.45" r="1.7"/><circle cx="363.35" cy="392.70" r="1.7"/><circle cx="366.75" cy="397.41" r="1.7"/><circle cx="370.15" cy="404.26" r="1.7"/><circle cx="373.55" cy="408.49" r="1.7"/><circle cx="376.95" cy="411.38" r="1.7"/><circle cx="380.35" cy="416.03" r="1.7"/><circle cx="383.75" cy="421.44" r="1.7"/><circle cx="387.15" cy="424.66" r="1.7"/><circle cx="393.95" cy="430.12" r="1.7"/><circle cx="397.35" cy="434.10" r="1.7"/><circle cx="400.75" cy="433.67" r="1.7"/><circle cx="407.55" cy="439.24" r="1.7"/><circle cx="410.95" cy="440.18" r="1.7"/><circle cx="414.35" cy="438.81" r="1.7"/><circle cx="417.75" cy="441.69" r="1.7"/><circle cx="421.15" cy="442.30" r="1.7"/><circle cx="424.55" cy="441.70" r="1.7"/><circle cx="427.95" cy="440.50" r="1.7"/><circle cx="431.35" cy="442.79" r="1.7"/><circle cx="434.75" cy="441.31" r="1.7"/><circle cx="102.00" cy="183.63" r="1.7"/><circle cx="105.41" cy="181.63" r="1.7"/><circle cx="108.81" cy="174.63" r="1.7"/><circle cx="112.22" cy="170.03" r="1.7"/><circle cx="115.62" cy="175.33" r="1.7"/><circle cx="119.03" cy="192.33" r="1.7"/><circle cx="122.44" cy="181.33" r="1.7"/><circle cx="125.84" cy="180.03" r="1.7"/><circle cx="129.25" cy="191.63" r="1.7"/><circle cx="132.65" cy="181.63" r="1.7"/><circle cx="136.06" cy="185.53" r="1.7"/><circle cx="139.47" cy="174.03" r="1.7"/><circle cx="142.87" cy="177.53" r="1.7"/><circle cx="146.28" cy="177.03" r="1.7"/><circle cx="149.68" cy="184.03" r="1.7"/><circle cx="153.09" cy="192.63" r="1.7"/><circle cx="156.50" cy="183.53" r="1.7"/><circle cx="159.90" cy="181.13" r="1.7"/><circle cx="163.31" cy="178.03" r="1.7"/><circle cx="166.71" cy="171.33" r="1.7"/><circle cx="170.12" cy="185.83" r="1.7"/><circle cx="173.53" cy="172.13" r="1.7"/><circle cx="176.93" cy="179.63" r="1.7"/><circle cx="180.34" cy="179.33" r="1.7"/><circle cx="183.74" cy="177.63" r="1.7"/><circle cx="187.15" cy="183.83" r="1.7"/><circle cx="190.56" cy="167.33" r="1.7"/><circle cx="193.96" cy="189.13" r="1.7"/><circle cx="197.37" cy="174.03" r="1.7"/><circle cx="200.77" cy="181.63" r="1.7"/><circle cx="204.18" cy="173.63" r="1.7"/><circle cx="207.59" cy="179.63" r="1.7"/><circle cx="210.99" cy="175.63" r="1.7"/><circle cx="546.80" cy="191.13" r="1.7"/><circle cx="550.20" cy="179.53" r="1.7"/><circle cx="553.60" cy="182.63" r="1.7"/><circle cx="557.00" cy="188.33" r="1.7"/><circle cx="560.40" cy="177.83" r="1.7"/><circle cx="563.80" cy="174.53" r="1.7"/><circle cx="567.20" cy="181.33" r="1.7"/><circle cx="570.60" cy="171.33" r="1.7"/><circle cx="574.00" cy="175.03" r="1.7"/><circle cx="577.40" cy="179.33" r="1.7"/><circle cx="580.80" cy="182.53" r="1.7"/><circle cx="584.20" cy="178.53" r="1.7"/><circle cx="587.60" cy="174.13" r="1.7"/><circle cx="591.00" cy="184.53" r="1.7"/><circle cx="594.40" cy="173.03" r="1.7"/><circle cx="597.80" cy="183.83" r="1.7"/><circle cx="601.20" cy="180.53" r="1.7"/><circle cx="604.60" cy="183.63" r="1.7"/><circle cx="608.00" cy="171.63" r="1.7"/><circle cx="611.40" cy="183.33" r="1.7"/><circle cx="614.80" cy="175.53" r="1.7"/><circle cx="618.20" cy="178.33" r="1.7"/><circle cx="621.60" cy="174.83" r="1.7"/><circle cx="625.00" cy="173.83" r="1.7"/><circle cx="628.40" cy="182.83" r="1.7"/><circle cx="631.80" cy="189.63" r="1.7"/><circle cx="635.20" cy="175.33" r="1.7"/><circle cx="638.60" cy="179.13" r="1.7"/><circle cx="642.00" cy="185.13" r="1.7"/><circle cx="645.40" cy="180.53" r="1.7"/><circle cx="648.80" cy="188.83" r="1.7"/><circle cx="652.20" cy="186.33" r="1.7"/><circle cx="659.00" cy="181.13" r="1.7"/><circle cx="325.95" cy="259.37" r="1.7"/><circle cx="329.35" cy="271.31" r="1.7"/><circle cx="332.75" cy="290.56" r="1.7"/><circle cx="336.15" cy="303.85" r="1.7"/><circle cx="339.55" cy="323.26" r="1.7"/><circle cx="342.95" cy="344.61" r="1.7"/><circle cx="346.35" cy="356.52" r="1.7"/><circle cx="349.75" cy="368.20" r="1.7"/><circle cx="353.15" cy="380.52" r="1.7"/><circle cx="356.55" cy="398.77" r="1.7"/><circle cx="359.95" cy="401.24" r="1.7"/><circle cx="363.35" cy="418.30" r="1.7"/><circle cx="366.75" cy="426.57" r="1.7"/><circle cx="370.15" cy="426.16" r="1.7"/><circle cx="373.55" cy="432.49" r="1.7"/><circle cx="376.95" cy="442.77" r="1.7"/><circle cx="380.35" cy="452.58" r="1.7"/><circle cx="383.75" cy="456.27" r="1.7"/><circle cx="387.15" cy="459.43" r="1.7"/><circle cx="393.95" cy="464.07" r="1.7"/><circle cx="397.35" cy="473.94" r="1.7"/><circle cx="400.75" cy="475.51" r="1.7"/><circle cx="407.55" cy="477.65" r="1.7"/><circle cx="410.95" cy="484.32" r="1.7"/><circle cx="414.35" cy="485.93" r="1.7"/><circle cx="417.75" cy="491.26" r="1.7"/><circle cx="421.15" cy="476.35" r="1.7"/><circle cx="424.55" cy="483.31" r="1.7"/><circle cx="427.95" cy="481.28" r="1.7"/><circle cx="431.35" cy="481.97" r="1.7"/><circle cx="434.75" cy="487.92" r="1.7"/></g><g font-family="Liberation Sans, sans-serif" font-size="18.4" fill="#000" stroke="#fff" stroke-width="0.22" opacity="0.999"><text x="83.2" y="524.80" text-anchor="end" textLength="53.3" lengthAdjust="spacingAndGlyphs">0.955</text><text x="83.2" y="476.56" text-anchor="end" textLength="53.3" lengthAdjust="spacingAndGlyphs">0.960</text><text x="83.2" y="420.92" text-anchor="end" textLength="53.3" lengthAdjust="spacingAndGlyphs">0.965</text><text x="83.2" y="365.28" text-anchor="end" textLength="53.3" lengthAdjust="spacingAndGlyphs">0.970</text><text x="83.2" y="309.64" text-anchor="end" textLength="53.3" lengthAdjust="spacingAndGlyphs">0.975</text><text x="83.2" y="254.00" text-anchor="end" textLength="53.3" lengthAdjust="spacingAndGlyphs">0.980</text><text x="83.2" y="198.36" text-anchor="end" textLength="53.3" lengthAdjust="spacingAndGlyphs">0.985</text><text x="83.2" y="142.72" text-anchor="end" textLength="53.3" lengthAdjust="spacingAndGlyphs">0.990</text><text x="83.2" y="87.08" text-anchor="end" textLength="53.3" lengthAdjust="spacingAndGlyphs">0.995</text><text x="83.2" y="31.44" text-anchor="end" textLength="53.3" lengthAdjust="spacingAndGlyphs">1.000</text><text x="126.26" y="552" text-anchor="middle" textLength="55.1" lengthAdjust="spacingAndGlyphs">−0.04</text><text x="275.48" y="552" text-anchor="middle" textLength="55.1" lengthAdjust="spacingAndGlyphs">−0.02</text><text x="424.70" y="552" text-anchor="middle" textLength="41.8" lengthAdjust="spacingAndGlyphs">0.00</text><text x="573.92" y="552" text-anchor="middle" textLength="41.8" lengthAdjust="spacingAndGlyphs">0.02</text><text x="723.14" y="552" text-anchor="middle" textLength="41.8" lengthAdjust="spacingAndGlyphs">0.04</text><text x="424.7" y="574.3" text-anchor="middle" textLength="56.1" lengthAdjust="spacingAndGlyphs">Phase</text><text transform="translate(15.3,263.75) rotate(-90)" text-anchor="middle" textLength="116.1" lengthAdjust="spacingAndGlyphs">Relative Flux</text></g></svg></body></html>
